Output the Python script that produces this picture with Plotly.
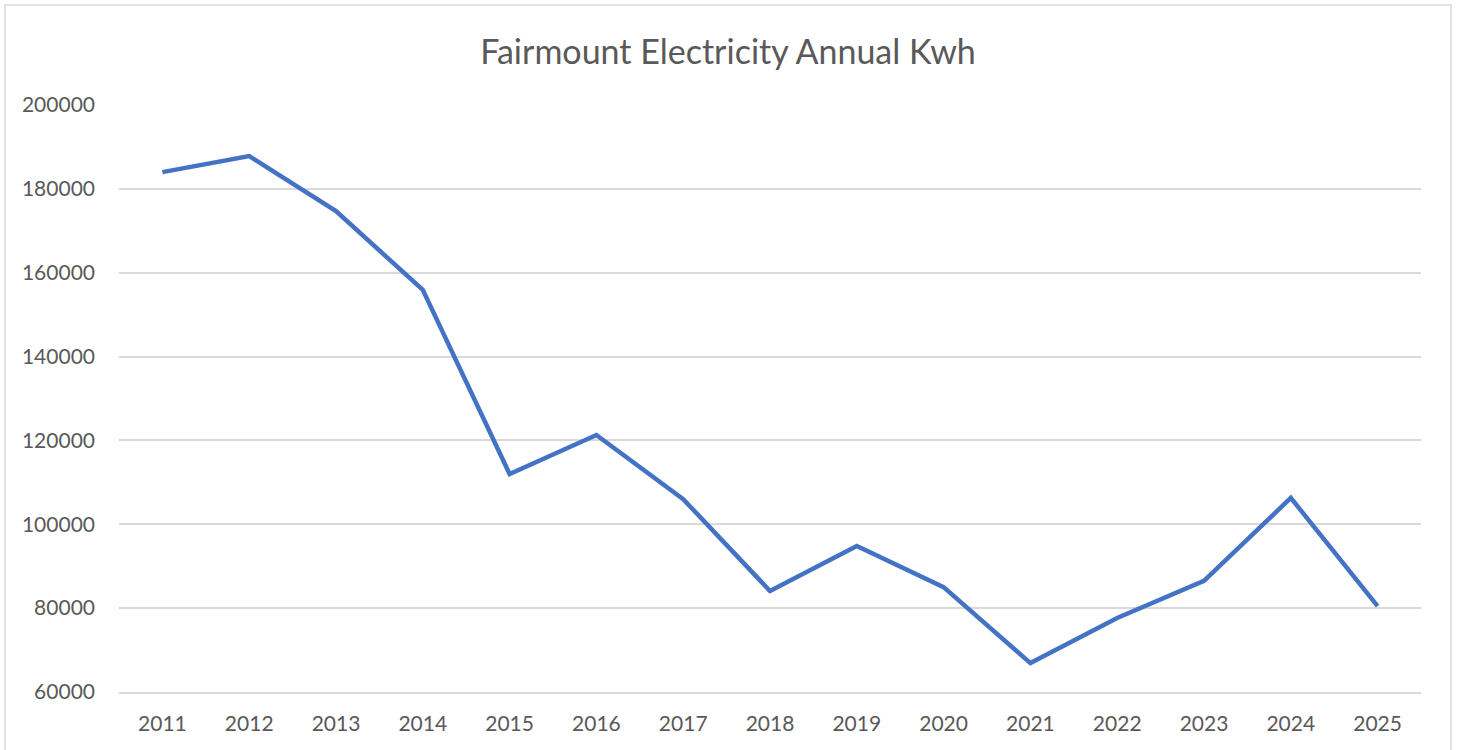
import plotly.graph_objects as go

years = ["2011", "2012", "2013", "2014", "2015", "2016", "2017", "2018",
         "2019", "2020", "2021", "2022", "2023", "2024", "2025"]
kwh = [184000, 187800, 174700, 155900, 112000, 121300, 106000, 84100,
       94800, 85000, 66900, 77650, 86500, 106300, 80500]
y_ticks = [60000, 80000, 100000, 120000, 140000, 160000, 180000, 200000]

W, H = 1459, 750
L, R, T, B = 119, 38, 105, 58
pw, ph = W - L - R, H - T - B

fig = go.Figure()
fig.add_trace(go.Scatter(
    x=years, y=kwh, mode="lines",
    line=dict(color="#4472C4", width=4.5, shape="linear"),
    showlegend=False, hoverinfo="x+y",
))

font_family = "Lato, 'Open Sans', sans-serif"
fig.update_layout(
    width=W, height=H,
    margin=dict(l=L, r=R, t=T, b=B, pad=0),
    paper_bgcolor="white", plot_bgcolor="white",
    title=dict(text="Fairmount Electricity Annual Kwh", x=728 / W, xanchor="center",
               y=1 - 52 / H, yanchor="middle",
               font=dict(family=font_family, size=34, color="#595959")),
    font=dict(family=font_family, size=21, color="#595959"),
    xaxis=dict(type="category", range=[-0.5, len(years) - 0.5],
               showgrid=False, showline=True, linecolor="#d9d9d9", linewidth=1.5,
               ticks="", ticklabelstandoff=12, zeroline=False,
               tickfont=dict(family=font_family, size=21, color="#595959")),
    yaxis=dict(range=[60000, 200000], tickvals=y_ticks,
               ticktext=[str(v) for v in y_ticks],
               showgrid=True, gridcolor="#d9d9d9", gridwidth=1.5,
               showline=False, zeroline=False, ticks="", ticklabelstandoff=23,
               tickfont=dict(family=font_family, size=21, color="#595959")),
    shapes=[dict(type="rect", xref="paper", yref="paper",
                 x0=(5 - L) / pw, x1=(1451 - L) / pw,
                 y0=-(B + 20) / ph, y1=1 + (T - 5) / ph,
                 line=dict(color="#d9d9d9", width=1.5), fillcolor="rgba(0,0,0,0)",
                 layer="below")],
)

fig.write_html("out.html", config={"displayModeBar": False},
               post_script="document.body.style.margin='0';")
